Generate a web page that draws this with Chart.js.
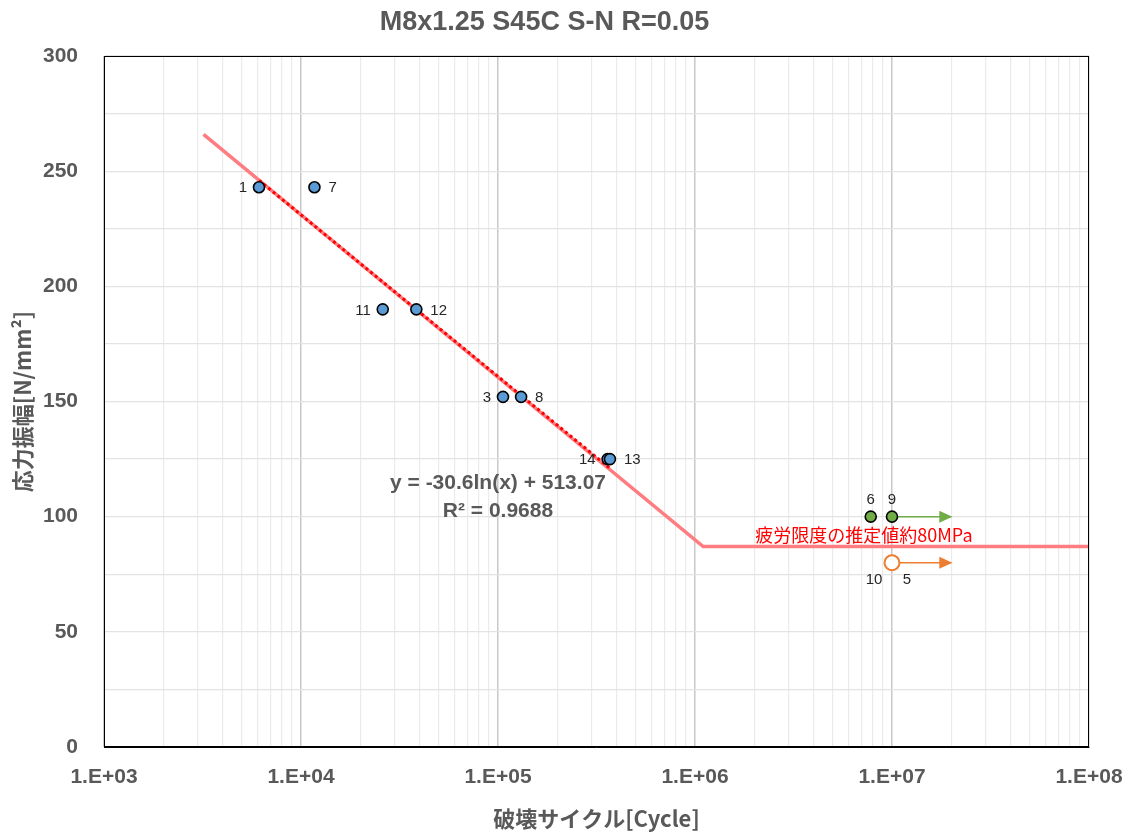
<!DOCTYPE html>
<html>
<head>
<meta charset="utf-8">
<script src="https://cdn.jsdelivr.net/npm/chart.js@4"></script>
<style>
  html, body { margin: 0; padding: 0; background: #fff; }
  #wrap { width: 1131px; height: 836px; }
</style>
</head>
<body>
<div id="wrap"><canvas id="snChart" width="1131" height="836"></canvas></div>
<script>
// test results (cycles to failure, stress amplitude)
const brokenX = [6120, 11700, 26000, 38500, 106000, 131000, 360000, 370000];
const brokenY = [243, 243, 190, 190, 152, 152, 125, 125];
const brokenNames = ['1', '7', '11', '12', '3', '8', '14', '13'];
const brokenSide = ['left', 'right', 'left', 'right', 'left', 'right', 'left', 'right'];

// run-outs at 1e7 (not broken)
const runoutX = [7800000, 10000000];
const runoutY = [100, 100];
const runoutNames = ['6', '9'];

const openX = [10000000];
const openY = [80];

// fitted S-N curve and trend line
const curveX = [3200, 1100000, 100000000];
const curveY = [266, 87, 87];
const trendX = [6120, 370000];
const trendY = [246, 121];

// arrows for run-outs
const arrowGreenX = [10000000, 20000000];
const arrowGreenY = [100, 100];
const arrowOrangeX = [10000000, 20000000];
const arrowOrangeY = [80, 80];

const xTickValues = [];
for (let e = 3; e < 8; e++) {
    for (let s = 1; s < 10; s++) xTickValues.push(s * Math.pow(10, e));
}
xTickValues.push(100000000);

const toPts = (xs, ys) => xs.map((x, i) => ({ x: x, y: ys[i] }));
const isDecade = v => Math.abs(Math.log10(v) - Math.round(Math.log10(v))) < 1e-9;

const gray = '#595959';
const latin = "'Liberation Sans', 'Noto Sans CJK JP', sans-serif";

// labels, arrow heads, frame
const extras = {
    id: 'extras',
    afterDatasetsDraw(chart) {
        const c = chart.ctx;
        const xs = chart.scales.x, ys = chart.scales.y;
        const area = chart.chartArea;
        c.save();
        c.strokeStyle = '#000';
        c.lineWidth = 1;
        c.strokeRect(area.left + 0.5, area.top + 0.5, area.right - area.left - 1, area.bottom - area.top - 1);

        c.font = "15px " + latin;
        c.fillStyle = '#262626';
        c.textBaseline = 'middle';
        brokenX.forEach((x, i) => {
            const px = xs.getPixelForValue(x), py = ys.getPixelForValue(brokenY[i]);
            if (brokenSide[i] === 'left') {
                c.textAlign = 'right';
                c.fillText(brokenNames[i], px - 12, py + 1);
            } else {
                c.textAlign = 'left';
                c.fillText(brokenNames[i], px + 14, py + 1);
            }
        });
        c.textAlign = 'center';
        runoutX.forEach((x, i) => {
            c.fillText(runoutNames[i], xs.getPixelForValue(x), ys.getPixelForValue(runoutY[i]) - 17);
        });
        const ox = xs.getPixelForValue(openX[0]), oy = ys.getPixelForValue(openY[0]);
        c.fillText('10', ox - 18, oy + 17);
        c.fillText('5', ox + 15, oy + 17);

        // arrow heads
        [[arrowGreenX, arrowGreenY, '#70AD47'], [arrowOrangeX, arrowOrangeY, '#ED7D31']].forEach(a => {
            const tx = xs.getPixelForValue(a[0][1]), ty = ys.getPixelForValue(a[1][1]);
            c.fillStyle = a[2];
            c.beginPath();
            c.moveTo(tx + 1, ty);
            c.lineTo(tx - 12, ty - 6);
            c.lineTo(tx - 12, ty + 6);
            c.closePath();
            c.fill();
        });

        // trend equation
        c.fillStyle = gray;
        c.font = "bold 21px " + latin;
        c.textAlign = 'center';
        c.fillText('y = -30.6ln(x) + 513.07', xs.getPixelForValue(100000), ys.getPixelForValue(114.5));
        c.fillText('R² = 0.9688', xs.getPixelForValue(100000), ys.getPixelForValue(102.3));

        // fatigue limit note
        c.fillStyle = '#FF0000';
        c.font = "18px 'Noto Sans CJK JP', sans-serif";
        c.fillText('疲労限度の推定値約80MPa', xs.getPixelForValue(7200000), ys.getPixelForValue(91.8));
        c.restore();
    }
};

const ctx = document.getElementById('snChart').getContext('2d');
const snChart = new Chart(ctx, {
    type: 'scatter',
    data: {
        datasets: [
            {
                data: toPts(brokenX, brokenY),
                backgroundColor: '#5B9BD5',
                borderColor: '#000',
                borderWidth: 1.6,
                pointRadius: 5.5,
            },
            {
                data: toPts(runoutX, runoutY),
                backgroundColor: '#70AD47',
                borderColor: '#000',
                borderWidth: 1.6,
                pointRadius: 5.5,
            },
            {
                data: toPts(openX, openY),
                backgroundColor: '#fff',
                borderColor: '#ED7D31',
                borderWidth: 2,
                pointRadius: 7.5,
            },
            {
                data: toPts(trendX, trendY),
                showLine: true,
                borderColor: '#FF0000',
                borderWidth: 3,
                borderDash: [3, 3],
                pointRadius: 0,
            },
            {
                data: toPts(arrowGreenX, arrowGreenY),
                showLine: true,
                borderColor: '#70AD47',
                borderWidth: 1.5,
                pointRadius: 0,
            },
            {
                data: toPts(arrowOrangeX, arrowOrangeY),
                showLine: true,
                borderColor: '#ED7D31',
                borderWidth: 1.5,
                pointRadius: 0,
            },
            {
                data: toPts(curveX, curveY),
                showLine: true,
                borderColor: '#FF7C80',
                borderWidth: 3.5,
                pointRadius: 0,
            },
        ],
    },
    options: {
        responsive: false,
        animation: false,
        layout: { padding: { left: 0, right: 42, top: 0, bottom: 0 } },
        plugins: {
            legend: { display: false },
            tooltip: { enabled: false },
            title: {
                display: true,
                text: 'M8x1.25 S45C S-N R=0.05',
                color: gray,
                font: { family: latin, size: 27, weight: 'bold', lineHeight: 1.2 },
                padding: { top: 6, bottom: 17.6 },
            },
        },
        scales: {
            x: {
                type: 'logarithmic',
                min: 1000,
                max: 100000000,
                afterBuildTicks: scale => {
                    scale.ticks = xTickValues.map(v => ({ value: v, major: isDecade(v) }));
                },
                afterFit: scale => {
                    scale.height = 89;
                    scale.paddingLeft = 0;
                    scale.paddingRight = 0;
                },
                ticks: {
                    autoSkip: false,
                    maxRotation: 0,
                    padding: 18,
                    color: gray,
                    font: { family: latin, size: 21, weight: 'bold' },
                    callback: v => {
                        if (!isDecade(v)) return '';
                        const e = Math.round(Math.log10(v));
                        return '1.E+' + (e < 10 ? '0' : '') + e;
                    },
                },
                grid: {
                    drawTicks: false,
                    color: c => (c.tick && isDecade(c.tick.value)) ? '#C8C8C8' : '#EBEBEB',
                    lineWidth: c => (c.tick && isDecade(c.tick.value)) ? 1.5 : 1.2,
                },
                border: { display: true, color: '#000', width: 1 },
                title: {
                    display: true,
                    text: '破壊サイクル[Cycle]',
                    color: gray,
                    font: { family: "'Noto Sans CJK JP', sans-serif", size: 22, weight: 'bold' },
                    padding: { top: 0, bottom: 4 },
                },
            },
            y: {
                min: 0,
                max: 300,
                afterFit: scale => { scale.width = 104; },
                ticks: {
                    stepSize: 25,
                    padding: 26,
                    color: gray,
                    font: { family: latin, size: 21, weight: 'bold' },
                    callback: v => (v % 50 === 0 ? v : ''),
                },
                grid: {
                    drawTicks: false,
                    color: '#E3E3E3',
                    lineWidth: 1.2,
                },
                border: { display: true, color: '#000', width: 1 },
                title: {
                    display: true,
                    text: '応力振幅[N/mm²]',
                    color: gray,
                    font: { family: "'Noto Sans CJK JP', sans-serif", size: 22, weight: 'bold' },
                    padding: { top: 9, bottom: 0 },
                },
            },
        },
    },
    plugins: [extras],
});
</script>
</body>
</html>
